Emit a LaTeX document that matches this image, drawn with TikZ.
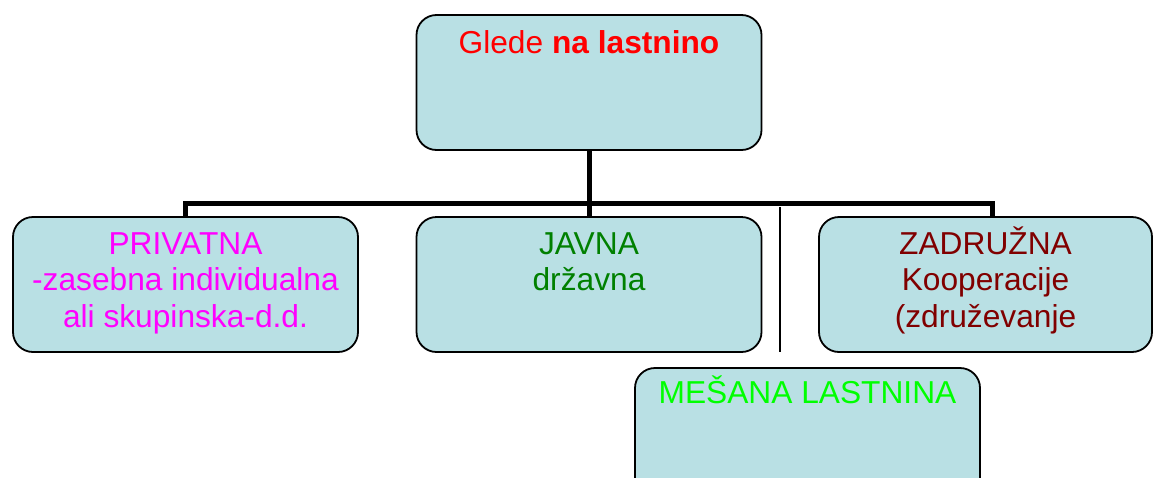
\documentclass[tikz,border=0pt]{standalone}
\usepackage{fontspec}
\setmainfont{Liberation Sans}
\definecolor{boxfill}{RGB}{185,224,228}
\definecolor{magen}{RGB}{255,0,255}
\definecolor{dgreen}{RGB}{0,128,0}
\definecolor{dred}{RGB}{128,0,0}
\definecolor{lgreen}{RGB}{0,255,0}
\definecolor{tred}{RGB}{255,0,0}
\begin{document}
\begin{tikzpicture}[x=1pt,y=-1pt,
  box/.style={draw=black, line width=1.8pt, fill=boxfill, rounded corners=20pt,
    minimum width=345pt, minimum height=135pt, inner sep=0pt},
  lbl/.style={anchor=base, inner sep=0pt, font=\fontsize{31.7}{36.5}\selectfont},
  conn/.style={line width=5pt},
  thin/.style={line width=1.5pt}]
\useasboundingbox (0,0) rectangle (1153,477);
\clip (0,0) rectangle (1153,477);
% boxes
\node[box] (top) at (589,82.5) {};
\node[box] (left) at (185.5,284.5) {};
\node[box] (mid) at (589,284.5) {};
\node[box, minimum width=333pt] (right) at (985.5,284.5) {};
\node[box] (bottom) at (807.5,435.5) {};
% connectors
\coordinate (bar) at (589,203);
\draw[conn] (top.south) -- (mid.north);
\draw[conn] (left.north) |- (bar) -| ([xshift=6.5pt]right.north);
\coordinate (sepA) at (780,207);
\coordinate (sepB) at (780,352);
\draw[thin] (sepA) -- (sepB);
% texts
\node[lbl, text=tred] (ttop) at ([yshift=-39pt]top.north) {Glede \textbf{na lastnino}};
\node[lbl, text=magen] (tleft) at ([yshift=-38pt]left.north)
  {\begin{tabular}[t]{@{}c@{}}PRIVATNA\\-zasebna individualna\\ali skupinska-d.d.\end{tabular}};
\node[lbl, text=dgreen] (tmid) at ([yshift=-38pt]mid.north)
  {\begin{tabular}[t]{@{}c@{}}JAVNA\\državna\end{tabular}};
\node[lbl, text=dred] (tright) at ([yshift=-38pt]right.north)
  {\begin{tabular}[t]{@{}c@{}}ZADRUŽNA\\Kooperacije\\(združevanje\end{tabular}};
\node[lbl, text=lgreen] (tbottom) at ([yshift=-36pt]bottom.north) {MEŠANA LASTNINA};
\end{tikzpicture}
\end{document}
